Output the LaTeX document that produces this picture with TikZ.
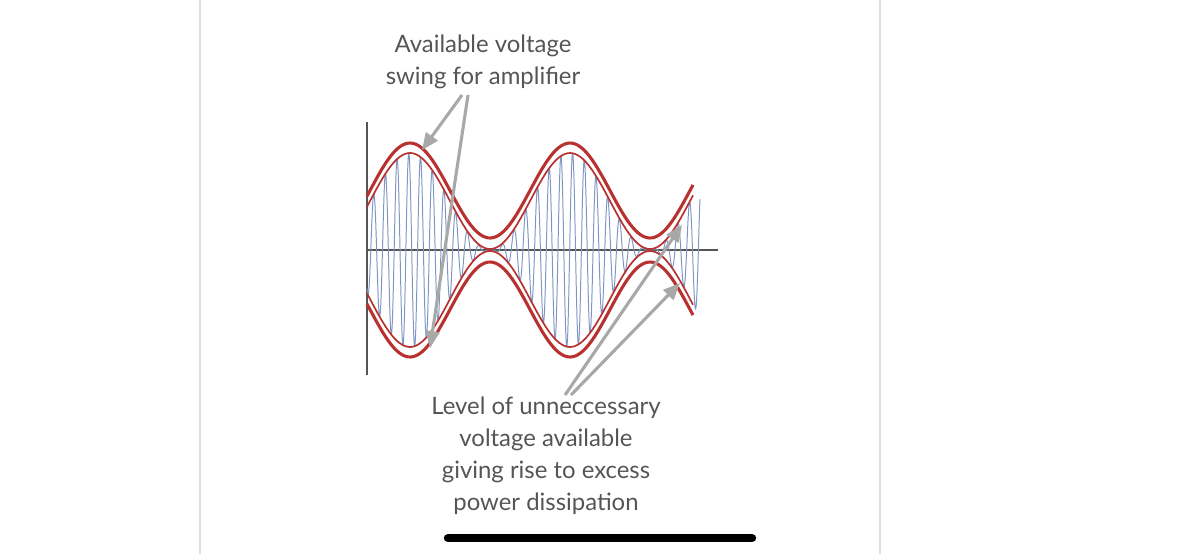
\documentclass[tikz,border=0pt]{standalone}
\usepackage{fontspec}
\setmainfont{Lato}
\usetikzlibrary{arrows.meta}
\definecolor{txtgray}{HTML}{555555}
\definecolor{arrgray}{HTML}{A8A8A8}
\definecolor{envred}{HTML}{B8312F}
\definecolor{sigblue}{HTML}{7F96C4}
\tikzset{
  label text/.style={text=txtgray, align=center, font=\fontsize{17}{22.7}\selectfont},
  pointer/.style={draw=arrgray, line width=2.2pt, -{Triangle[length=12pt,width=10pt]}},
  envelope/.style={envred, line join=round}
}
\begin{document}
\begin{tikzpicture}[x=0.025cm, y=-0.025cm]
				\useasboundingbox (0,0) rectangle (1200,554);
				% Page borders
				\draw[gray!25, line width=1pt] (200,0) -- (200,554);
				\draw[gray!25, line width=1pt] (880,0) -- (880,554);

				% Axes
				\draw[txtgray, line width=1.4pt] (367,122) -- (367,375);
				\draw[txtgray, line width=1.4pt] (367,250) -- (718,250);

				% Signal
				\draw[sigblue, line width=0.7pt] plot[domain=367:700, samples=2400]
					(\x, {250 - 48.5*(1+cos((\x-410)*2.25))*cos((\x-362)*30.77)});

				% Envelopes
				\draw[envelope, line width=2.2pt] plot[domain=367:693, samples=120] (\x, {190.5 - 47.5*cos((\x-410)*2.25)});
				\draw[envelope, line width=2.2pt] plot[domain=367:693, samples=120] (\x, {309.5 + 47.5*cos((\x-410)*2.25)});
				\draw[envelope, line width=1.2pt] plot[domain=367:693, samples=120] (\x, {201 - 48*cos((\x-410)*2.25)});
				\draw[envelope, line width=1.2pt] plot[domain=367:693, samples=120] (\x, {299 + 48*cos((\x-410)*2.25)});

				% Upper label
				\node[label text] (swing) at (483,62) {Available voltage\\swing for amplifier};
				\coordinate (swingtop) at (422,150);
				\coordinate (swingbot) at (430,348);
				\draw[pointer] (462,95) -- (swingtop);
				\draw[pointer] (468,95) -- (swingbot);

				% Lower label
				\node[label text] (excess) at (546,456) {Level of unneccessary\\voltage available\\giving rise to excess\\power dissipation};
				\coordinate (excesstop) at (682,225);
				\coordinate (excessbot) at (680,283);
				\draw[pointer] (565,395) -- (excesstop);
				\draw[pointer] (571,395) -- (excessbot);

				% Home bar
				\draw[black, line width=6pt, line cap=round] (448,538) -- (752,538);
			\end{tikzpicture}
\end{document}
